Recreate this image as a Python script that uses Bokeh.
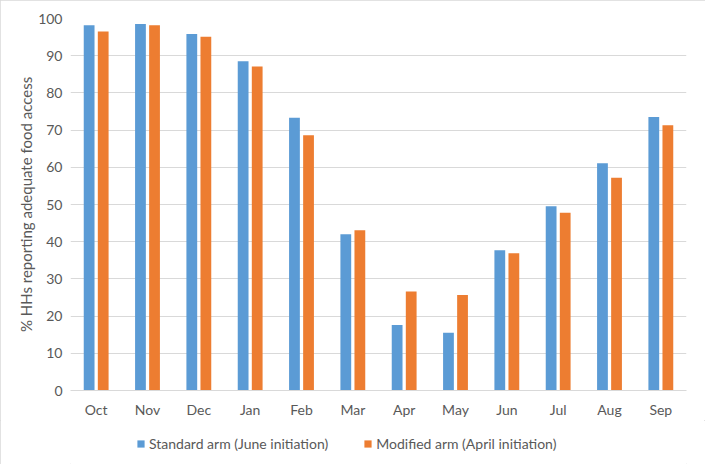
from bokeh.plotting import figure
from bokeh.layouts import column
from bokeh.models import ColumnDataSource, Legend, LegendItem, SingleIntervalTicker
from bokeh.transform import dodge
from bokeh.embed import file_html
from bokeh.resources import INLINE

months = ["Oct", "Nov", "Dec", "Jan", "Feb", "Mar", "Apr", "May", "Jun", "Jul", "Aug", "Sep"]
standard = [98.2, 98.5, 95.8, 88.5, 73.3, 42.0, 17.6, 15.5, 37.7, 49.5, 61.1, 73.5]
modified = [96.5, 98.2, 95.1, 87.1, 68.6, 43.1, 26.6, 25.7, 36.9, 47.8, 57.2, 71.3]
series_names = ["Standard arm (June initiation)", "Modified arm (April initiation)"]

BLUE = "#5B9BD5"
ORANGE = "#ED7D31"
FONT = "Lato"
TXT = "#595959"

src = ColumnDataSource(dict(month=months, standard=standard, modified=modified))

p = figure(x_range=months, y_range=(0, 100), width=705, height=420,
           output_backend="svg", toolbar_location=None,
           min_border_left=70, min_border_right=19, min_border_top=18, min_border_bottom=30)

r1 = p.vbar(x=dodge("month", -0.137, range=p.x_range), top="standard", width=0.21,
            source=src, fill_color=BLUE, line_color=None)
r2 = p.vbar(x=dodge("month", 0.137, range=p.x_range), top="modified", width=0.21,
            source=src, fill_color=ORANGE, line_color=None)

p.outline_line_color = None
p.background_fill_color = "white"
p.border_fill_color = "white"
p.xgrid.grid_line_color = None
p.ygrid.grid_line_color = "#d9d9d9"
p.ygrid.grid_line_width = 1
p.x_range.range_padding = 0

p.yaxis.ticker = SingleIntervalTicker(interval=10)
p.yaxis.axis_line_color = None
p.yaxis.major_tick_line_color = None
p.yaxis.minor_tick_line_color = None
p.yaxis.major_tick_out = 0
p.yaxis.major_tick_in = 0
p.yaxis.minor_tick_out = 0
p.yaxis.major_label_standoff = 8
p.yaxis.axis_label = "% HHs reporting adequate food access"
p.yaxis.axis_label_text_font = FONT
p.yaxis.axis_label_text_font_style = "normal"
p.yaxis.axis_label_text_font_size = "15px"
p.yaxis.axis_label_text_color = TXT
p.yaxis.axis_label_standoff = 0

p.xaxis.axis_line_color = "#d9d9d9"
p.xaxis.major_tick_line_color = None
p.xaxis.minor_tick_line_color = None
p.xaxis.major_tick_out = 0
p.xaxis.major_tick_in = 0
p.xaxis.minor_tick_out = 0
p.xaxis.major_label_standoff = 10

for ax in (p.xaxis, p.yaxis):
    ax.major_label_text_font = FONT
    ax.major_label_text_font_size = "14px"
    ax.major_label_text_color = TXT

# legend strip as its own small figure (its frame is aligned with the main frame)
lf = figure(width=705, height=44, x_range=(0, 1), y_range=(0, 1),
            output_backend="svg", toolbar_location=None,
            min_border=0, min_border_left=0, min_border_right=0,
            min_border_top=0, min_border_bottom=0)
lf.axis.visible = False
lf.grid.visible = False
lf.outline_line_color = None
hidden = ColumnDataSource(dict(x=[0.5], top=[0.0]))
l1 = lf.vbar(x="x", top="top", bottom=0, width=0.01, source=hidden, fill_color=BLUE, line_color=None)
l2 = lf.vbar(x="x", top="top", bottom=0, width=0.01, source=hidden, fill_color=ORANGE, line_color=None)
legend = Legend(items=[LegendItem(label=series_names[0], renderers=[l1]),
                       LegendItem(label=series_names[1], renderers=[l2])],
                orientation="horizontal", location=(66, 12),
                glyph_width=9, glyph_height=9, label_standoff=4, spacing=35,
                padding=0, margin=0, border_line_color=None, background_fill_alpha=0,
                label_text_font=FONT, label_text_font_size="14px", label_text_color=TXT)
lf.add_layout(legend, "center")

layout = column(p, lf, spacing=0)
layout.styles = {"outline": "1px solid #d9d9d9", "outline-offset": "-1px"}

open("out.html", "w").write(file_html(layout, INLINE))
